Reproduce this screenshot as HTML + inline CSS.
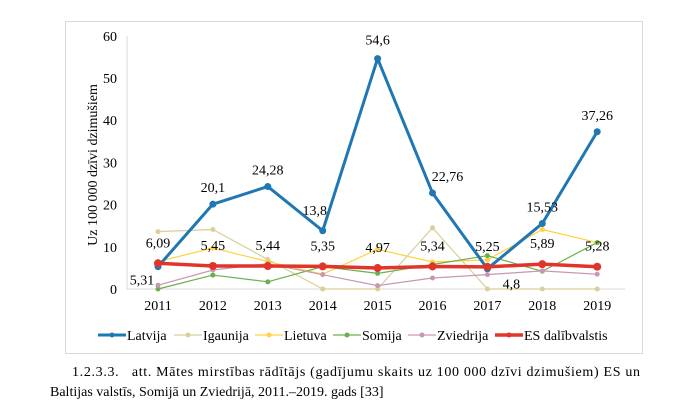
<!DOCTYPE html>
<html><head><meta charset="utf-8"><style>
body{margin:0;background:#fff;width:676px;height:414px;overflow:hidden;font-family:"Liberation Serif",serif}
svg text{font-family:"Liberation Serif",serif}
</style></head><body>
<svg id="chart" width="676" height="414">
<rect x="65.5" y="21.5" width="577" height="332" fill="#fff" stroke="#d9d9d9"/>
<g id="grid"></g><g id="series"></g><g id="labels"></g>
<text transform="translate(97,165) rotate(-90)" text-anchor="middle" font-size="14">Uz 100 000 dzīvi dzimušiem</text>
<g id="legend" font-size="14"></g>
<text x="72" y="376" font-size="14" textLength="568" lengthAdjust="spacing" xml:space="preserve">1.2.3.3.   att. Mātes mirstības rādītājs (gadījumu skaits uz 100 000 dzīvi dzimušiem) ES un</text>
<text x="50" y="396" font-size="14">Baltijas valstīs, Somijā un Zviedrijā, 2011.–2019. gads [33]</text>
</svg>
<script>
const years=["2011","2012","2013","2014","2015","2016","2017","2018","2019"];
const yTicks=[0,10,20,30,40,50,60];
const latvija=[5.31,20.1,24.28,13.8,54.6,22.76,4.8,15.53,37.26];
const igaunija=[13.6,14.1,7,0,0,14.5,0,0,0];
const lietuva=[6.5,9.7,6.5,3.5,9.4,6.4,6.9,14.1,11];
const somija=[0,3.3,1.7,5.3,3.7,5.8,7.9,4.2,11];
const zviedrija=[0.9,4.5,6,3.4,0.8,2.6,3.4,4.3,3.5];
const es=[6.09,5.45,5.44,5.35,4.97,5.34,5.25,5.89,5.28];
const latLabels=["5,31","20,1","24,28","13,8","54,6","22,76","4,8","15,53","37,26"];
const esLabels=["6,09","5,45","5,44","5,35","4,97","5,34","5,25","5,89","5,28"];
const NS="http://www.w3.org/2000/svg";
const X=i=>158+i*54.9, Y=v=>289-v*4.22;
function mk(t,a,p){const e=document.createElementNS(NS,t);for(const k in a)e.setAttribute(k,a[k]);p.appendChild(e);return e;}
const g=document.getElementById('grid');
const ax=mk('line',{x1:127,y1:Y(0),x2:625,y2:Y(0),stroke:'#d9d9d9'},g);


const ay=mk('line',{x1:127,y1:Y(0),x2:127,y2:Y(60),stroke:'#d9d9d9'},g);


yTicks.forEach(v=>{const t=mk('text',{x:117,y:Y(v)+5,'text-anchor':'end','font-size':14},g);t.textContent=v;

});
years.forEach((y,i)=>{const t=mk('text',{x:X(i),y:310,'text-anchor':'middle','font-size':14},g);t.textContent=y;

});
const s=document.getElementById('series');
const defs=[[igaunija,'#d9cf9a',1.2,2.5,'igaunija'],[lietuva,'#ffd23f',1.2,2.5,'lietuva'],[somija,'#6ab04c',1.2,2.5,'somija'],[zviedrija,'#c996b4',1.2,2.5,'zviedrija'],[latvija,'#1f77b4',3,3.5,'latvija'],[es,'#e0352b',3.5,4,'es-dalibvalstis']];
defs.forEach(([d,c,w,r,n])=>{
 const p=mk('polyline',{points:d.map((v,i)=>X(i)+','+Y(v)).join(' '),fill:'none',stroke:c,'stroke-width':w,'stroke-linejoin':'round'},s);
 
 
 d.forEach((v,i)=>{const m=mk('circle',{cx:X(i),cy:Y(v),r:r,fill:c},s);
 
 });
});
const L=document.getElementById('labels');
const latOff=[[-16,18],[0,-12],[0,-12],[-8,-16],[0,-14],[15,-12],[24,20],[0,-12],[0,-12]];
latLabels.forEach((t,i)=>{const e=mk('text',{x:X(i)+latOff[i][0],y:Y(latvija[i])+latOff[i][1],'text-anchor':'middle','font-size':14},L);e.textContent=t;

});
esLabels.forEach((t,i)=>{const e=mk('text',{x:X(i),y:Y(es[i])-16,'text-anchor':'middle','font-size':14},L);e.textContent=t;

});
const lg=document.getElementById('legend');
const items=[['Latvija','#1f77b4',3,98],['Igaunija','#d9cf9a',1.2,174],['Lietuva','#ffd23f',1.2,255],['Somija','#6ab04c',1.2,333],['Zviedrija','#c996b4',1.2,408],['ES dalībvalstis','#e0352b',3.5,495]];
items.forEach(([n,c,w,x])=>{
 const grp=mk('g',{},lg);
 
 
 mk('line',{x1:x,y1:335,x2:x+28,y2:335,stroke:c,'stroke-width':w},grp);
 mk('circle',{cx:x+14,cy:335,r:2.5,fill:c},grp);
 const t=mk('text',{x:x+29,y:340},grp);t.textContent=n;
});
</script>
</body></html>
